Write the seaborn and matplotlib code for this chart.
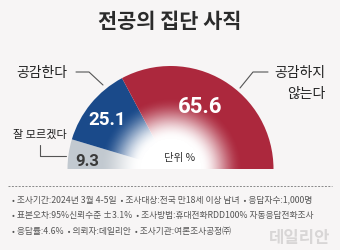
import numpy as np
import matplotlib
matplotlib.use("Agg")
import matplotlib.pyplot as plt
import seaborn as sns

# data
categories = ["잘 모르겠다", "공감한다", "공감하지\n않는다"]
values = [9.3, 25.1, 65.6]
value_labels = ["9.3", "25.1", "65.6"]
colors = ["#c2c9d0", "#1a4a8a", "#ac283d"]
title = "전공의 집단 사직"
unit_label = "단위 %"
notes = [
    "• 조사기간:2024년 3월 4-5일  • 조사대상:전국 만18세 이상 남녀  • 응답자수:1,000명",
    "• 표본오차:95%신뢰수준 ±3.1%  • 조사방법:휴대전화RDD100% 자동응답전화조사",
    "• 응답률:4.6%  • 의뢰자:데일리안  • 조사기관:여론조사공정㈜",
]
watermark = "데일리안"

sns.set_theme(style="white")
plt.rcParams["font.family"] = ["Noto Sans CJK KR", "DejaVu Sans"]

W, H = 340, 251
BG = "#f7f5f5"
fig = plt.figure(figsize=(W / 100, H / 100), dpi=100, facecolor=BG)
ax = fig.add_axes([0, 0, 1, 1])
ax.set_facecolor(BG)

def Y(py):
    return H - py

cx, cy, R = 170.5, Y(170), 103

total = sum(values)
wedges, _ = ax.pie(values + [total], colors=colors + ["none"], startangle=180,
                   counterclock=False, radius=R, center=(cx, cy),
                   wedgeprops=dict(linewidth=0))
wedges[-1].set_visible(False)

# radial white gradient in the center
n = 400
xs = np.linspace(cx - R, cx + R, n)
ys = np.linspace(cy, cy + R, n // 2)
XX, YY = np.meshgrid(xs, ys)
rr = np.hypot(XX - cx, YY - cy) / R
r0, r1 = 0.30, 0.70
t = np.clip((r1 - rr) / (r1 - r0), 0, 1)
alpha = t * t * (3 - 2 * t)
img = np.ones((ys.size, xs.size, 4))
img[..., 3] = alpha
ax.imshow(img, extent=(cx - R, cx + R, cy, cy + R), origin="lower",
          interpolation="bilinear", zorder=3)

ax.set_xlim(0, W)
ax.set_ylim(0, H)
ax.set_aspect("equal")
ax.axis("off")

# title
ax.text(170, Y(22), title, ha="center", va="center", fontsize=15,
        fontweight="bold", color="#2b2b2b", zorder=5)

# value labels
ax.text(87, Y(161), value_labels[0], ha="center", va="center", fontsize=12,
        fontweight="bold", color="#3a3a3a", family=["Roboto", "DejaVu Sans"], zorder=5)
ax.text(107, Y(120), value_labels[1], ha="center", va="center", fontsize=13.5,
        fontweight="bold", color="white", family=["Roboto", "DejaVu Sans"], zorder=5)
ax.text(200, Y(107), value_labels[2], ha="center", va="center", fontsize=16,
        fontweight="bold", color="white", family=["Roboto", "DejaVu Sans"], zorder=5)
ax.text(180, Y(158), unit_label, ha="center", va="center", fontsize=7.5,
        color="#333333", zorder=5)

# category labels and leaders
lc = "#555555"
ax.text(42, Y(73), categories[1], ha="center", va="center", fontsize=10,
        fontweight="medium", color="#222222")
ax.plot([76, 89, 103], [Y(73), Y(73), Y(86)], color=lc, lw=0.8)

ax.text(325, Y(73), "공감하지", ha="right", va="center", fontsize=10,
        fontweight="medium", color="#222222")
ax.text(325, Y(94), "않는다", ha="right", va="center", fontsize=10,
        fontweight="medium", color="#222222")
ax.plot([268, 253, 240], [Y(73), Y(73), Y(89)], color=lc, lw=0.8)

ax.text(40, Y(135), categories[0], ha="center", va="center", fontsize=8,
        fontweight="medium", color="#222222")
ax.plot([40, 40, 66], [Y(146), Y(157), Y(157)], color=lc, lw=0.8)

# dashed separator
ax.plot([8, 332], [Y(187), Y(187)], color="#888888", lw=0.7, ls=(0, (2, 1.5)))

# notes
for i, line in enumerate(notes):
    ax.text(12, Y(200 + 16 * i), line, ha="left", va="center", fontsize=6.3,
            color="#555555")

ax.text(300, Y(238), watermark, ha="center", va="center", fontsize=12,
        color="#d8d6d6", fontweight="bold")

fig.savefig("out.png", dpi=100, facecolor=BG)
